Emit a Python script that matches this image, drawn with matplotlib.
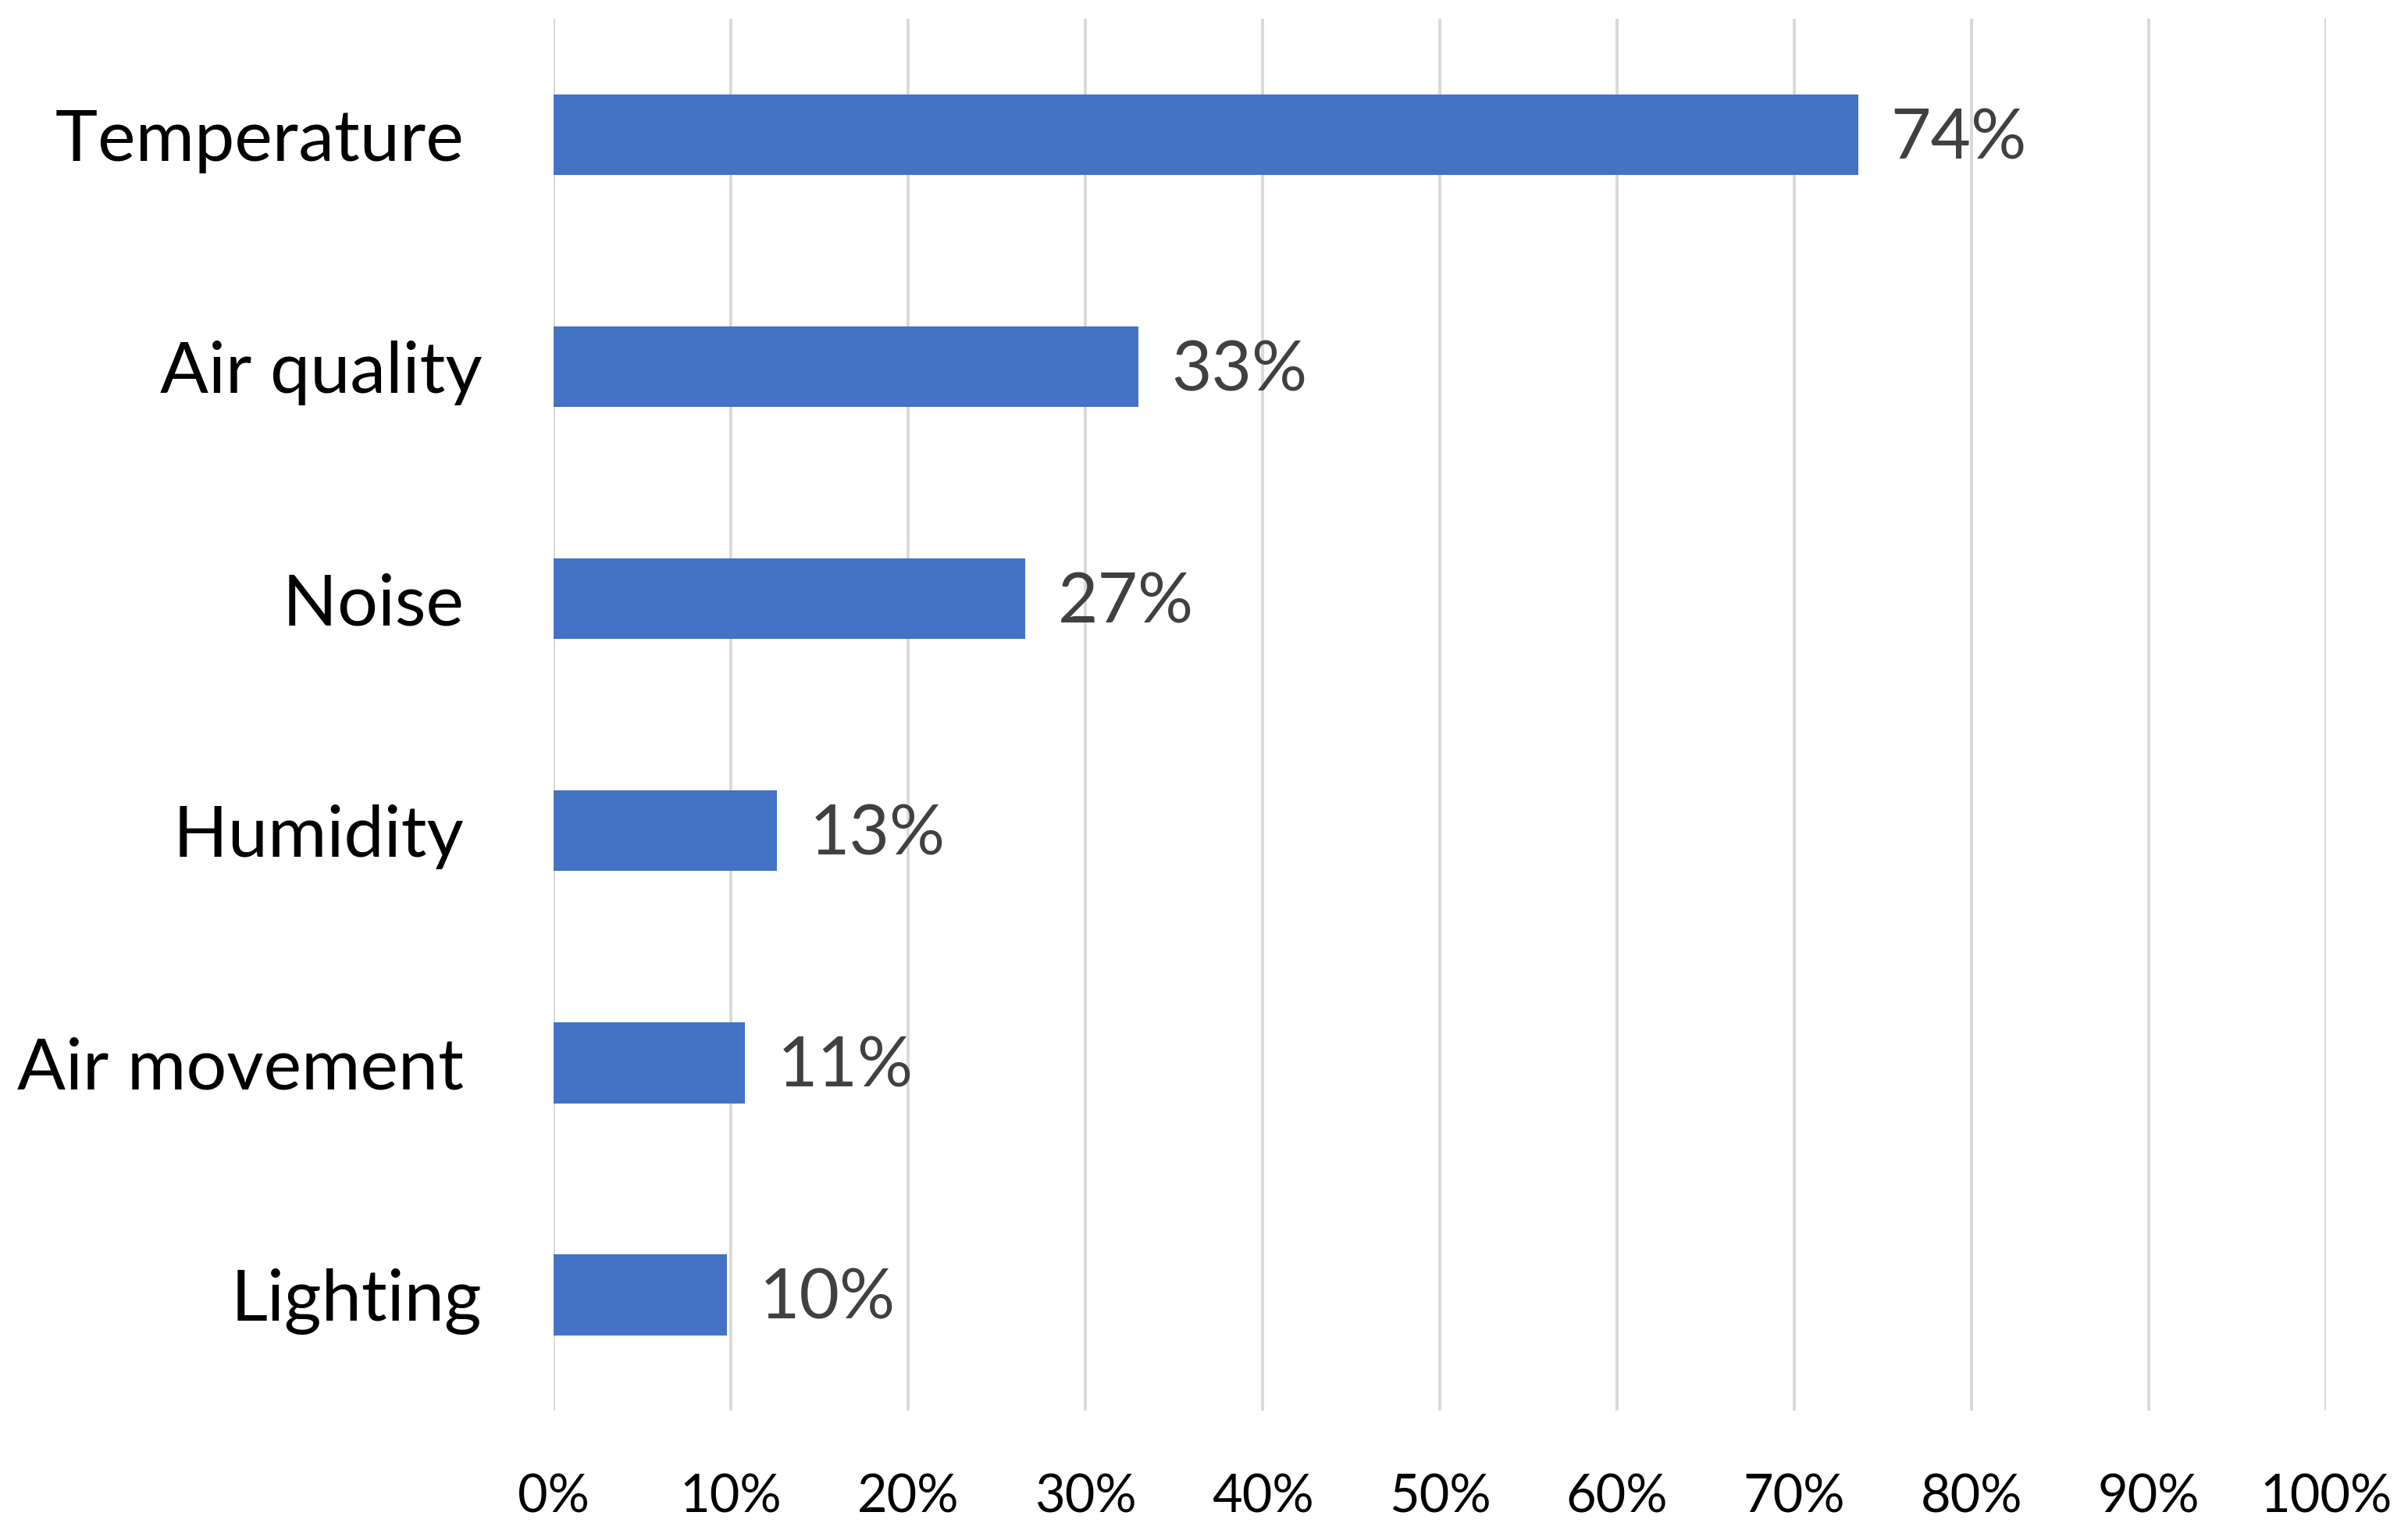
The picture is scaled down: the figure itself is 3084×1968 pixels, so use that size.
import matplotlib.pyplot as plt

categories = ["Temperature ", "Air quality", "Noise ", "Humidity ", "Air movement ", "Lighting"]
shares = [73.6, 33.0, 26.6, 12.6, 10.8, 9.8]
share_labels = [74, 33, 27, 13, 11, 10]
xticks = [0, 10, 20, 30, 40, 50, 60, 70, 80, 90, 100]

plt.rcParams['font.family'] = ['Lato', 'DejaVu Sans']

fig = plt.figure(figsize=(15.42, 9.84), dpi=200)
ax = fig.add_axes([0.2299, 0.0823, 0.966 - 0.2299, 0.9878 - 0.0823])

ypos = list(range(len(categories)))
ax.barh(ypos, shares, height=0.35, color='#4472C4', zorder=2)

# value labels to the right of each bar
for y, v, lab in zip(ypos, shares, share_labels):
    ax.annotate(str(lab) + "%", xy=(v, y), xytext=(15, -2), textcoords='offset points',
                ha='left', va='center', fontsize=32, color='#404040', zorder=3)

ax.set_xlim(0, 100)
ax.set_ylim(len(categories) - 0.5, -0.5)
ax.set_xticks(xticks)
ax.set_xticklabels([str(t) + "%" for t in xticks], fontsize=24, color='#000000')
ax.set_yticks(ypos)
ax.set_yticklabels(categories, fontsize=33, color='#000000')
ax.tick_params(axis='y', length=0, pad=33)
ax.tick_params(axis='x', length=0, pad=29)

ax.grid(axis='x', color='#d9d9d9', linewidth=1.4, zorder=0)
ax.grid(axis='y', visible=False)
for s in ax.spines.values():
    s.set_visible(False)

fig.savefig("out.png", dpi=200)
